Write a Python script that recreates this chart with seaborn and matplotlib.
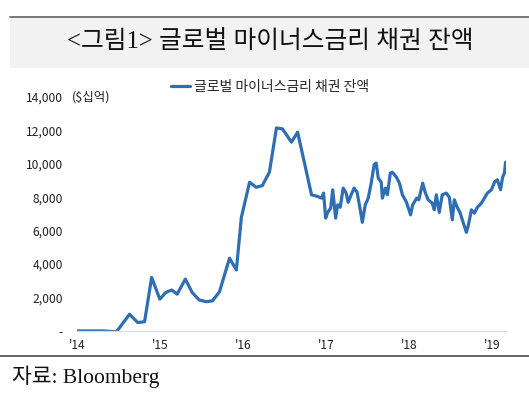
import matplotlib
matplotlib.use('Agg')
import matplotlib.pyplot as plt
from matplotlib.lines import Line2D
from matplotlib.patches import Rectangle
import pandas as pd
import seaborn as sns

# data ($ billions)
dates = [
    '2014-01-01', '2014-04-24', '2014-06-25', '2014-08-21', '2014-09-26', '2014-10-26',
    '2014-11-26', '2015-01-01', '2015-01-27', '2015-02-22', '2015-03-18', '2015-04-23',
    '2015-05-23', '2015-06-23', '2015-07-24', '2015-08-20', '2015-09-20', '2015-11-03',
    '2015-12-03', '2015-12-25', '2016-01-30', '2016-02-28', '2016-03-26', '2016-04-26',
    '2016-05-27', '2016-06-22', '2016-08-01', '2016-08-28', '2016-10-28', '2016-11-24',
    '2016-12-11', '2016-12-20', '2016-12-29', '2017-01-07', '2017-01-20', '2017-01-29',
    '2017-02-11', '2017-02-20', '2017-03-03', '2017-03-16', '2017-03-29', '2017-04-07',
    '2017-04-20', '2017-05-03', '2017-05-16', '2017-05-30', '2017-06-08', '2017-06-21',
    '2017-07-04', '2017-07-17', '2017-07-30', '2017-08-08', '2017-08-17', '2017-08-30',
    '2017-09-04', '2017-09-17', '2017-09-26', '2017-10-09', '2017-10-18', '2017-11-05',
    '2017-11-18', '2017-12-01', '2017-12-19', '2018-01-06', '2018-01-15', '2018-02-02',
    '2018-02-11', '2018-02-28', '2018-03-11', '2018-03-24', '2018-04-11', '2018-04-20',
    '2018-04-29', '2018-05-12', '2018-05-25', '2018-06-12', '2018-06-25', '2018-07-08',
    '2018-07-17', '2018-07-30', '2018-08-12', '2018-08-21', '2018-09-08', '2018-09-17',
    '2018-09-30', '2018-10-13', '2018-10-26', '2018-11-13', '2018-11-26', '2018-12-09',
    '2018-12-27', '2019-01-09', '2019-01-22', '2019-02-05', '2019-02-14', '2019-02-22',
    '2019-02-27',
]
values = [
    0, 0, -50, 1000, 500, 550,
    3200, 1900, 2300, 2450, 2200, 3100,
    2300, 1850, 1750, 1800, 2350, 4350,
    3650, 6800, 8900, 8600, 8700, 9500,
    12150, 12100, 11300, 11900, 8150, 8050,
    7950, 8250, 6750, 7100, 7350, 8450,
    6750, 7550, 7400, 8550, 8250, 7700,
    8150, 8550, 8300, 7250, 6500, 7550,
    7950, 8850, 9950, 10050, 9150, 8900,
    7950, 8550, 8150, 9450, 9500, 9200,
    8850, 8150, 7700, 6950, 7550, 7950,
    7850, 8850, 8300, 7850, 7650, 7250,
    8150, 7100, 8150, 8250, 8000, 6650,
    7850, 7400, 7050, 6650, 5900, 6350,
    7250, 7050, 7400, 7650, 7950, 8250,
    8450, 8900, 9050, 8450, 9200, 9450,
    10100,
]
y_ticks = [0, 2000, 4000, 6000, 8000, 10000, 12000, 14000]
y_labels = ['-', '2,000', '4,000', '6,000', '8,000', '10,000', '12,000', '14,000']
x_years = ['2014', '2015', '2016', '2017', '2018', '2019']
x_labels = ["'14", "'15", "'16", "'17", "'18", "'19"]

title = '<그림1> 글로벌 마이너스금리 채권 잔액'
series_name = '글로벌 마이너스금리 채권 잔액'
unit = '($십억)'
source = '자료: Bloomberg'

LINE = '#2f6eb4'
SERIF = ['Liberation Serif', 'Noto Sans CJK KR']

sns.set_theme(style='white')
plt.rcParams['font.family'] = ['Noto Sans CJK KR', 'DejaVu Sans']

df = pd.DataFrame({'date': pd.to_datetime(dates), 'value': values})

fig = plt.figure(figsize=(5.29, 3.93), dpi=100)
ax = fig.add_axes([0.145, 0.158, 0.812, 0.595])

sns.lineplot(data=df, x='date', y='value', ax=ax, color=LINE, linewidth=2.3)

ax.set_xlim(pd.Timestamp('2014-01-01'), pd.Timestamp('2019-03-02'))
ax.set_ylim(0, 14000)
ax.set_yticks(y_ticks)
ax.set_yticklabels(y_labels, fontsize=8.7, color='#222222')
ax.set_xticks(pd.to_datetime(x_years))
ax.set_xticklabels(x_labels, fontsize=8.7, color='#222222')
ax.tick_params(axis='y', length=0, pad=10)
ax.tick_params(axis='x', direction='in', length=3, width=0.8, color='#d0d0d0', pad=6)
ax.set_xlabel('')
ax.set_ylabel('')
for s in ['top', 'right', 'left']:
    ax.spines[s].set_visible(False)
ax.spines['bottom'].set_color('#d9d9d9')
ax.spines['bottom'].set_linewidth(0.9)
ax.grid(False)

# legend at the top of the plot
handle = Line2D([0], [0], color=LINE, linewidth=2.3)
fig.legend([handle], [series_name], loc='center left', bbox_to_anchor=(0.323, 0.778),
           frameon=False, fontsize=10, handlelength=1.4, handletextpad=0.3,
           borderaxespad=0, borderpad=0)

fig.text(0.136, 0.753, unit, fontsize=9, va='center', ha='left', color='#222222')

# title band
fig.patches.append(Rectangle((0.019, 0.827), 0.981, 0.13, transform=fig.transFigure,
                             facecolor='#f2f2f2', edgecolor='none', zorder=0))
fig.add_artist(Line2D([0.019, 1.0], [0.958, 0.958], transform=fig.transFigure,
                      color='#6e6e6e', linewidth=1.3))
fig.text(0.51, 0.895, title, fontsize=17.8, ha='center', va='center',
         family=SERIF, color='#111111')

# bottom rule and source
fig.add_artist(Line2D([0.0, 1.0], [0.094, 0.094], transform=fig.transFigure,
                      color='#555555', linewidth=1.3))
fig.text(0.022, 0.041, source, fontsize=15.5, ha='left', va='center',
         family=SERIF, color='#111111')

fig.savefig('out.png', dpi=100)
